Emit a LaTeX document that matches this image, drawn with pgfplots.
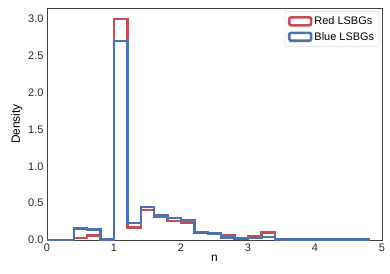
\documentclass[border=0pt]{standalone}
\usepackage{pgfplots}
\pgfplotsset{compat=1.18}
\usepackage{fontspec}
\setmainfont{Liberation Sans}
\definecolor{sred}{HTML}{C44E52}
\definecolor{sblue}{HTML}{4C72B0}
\begin{document}
\begin{tikzpicture}
\begin{axis}[
  scale only axis,
  width=335bp, height=232bp,
  xmin=0, xmax=5, ymin=0, ymax=3.15,
  xtick={0,1,2,3,4,5},
  ytick={0,0.5,1,1.5,2,2.5,3},
  yticklabel style={/pgf/number format/.cd,fixed,fixed zerofill,precision=1},
  /pgf/number format/assume math mode=true,
  major tick length=0pt,
  tick label style={font=\fontsize{11}{13}\selectfont, text=black!85},
  label style={font=\fontsize{12}{14}\selectfont},
  xlabel={n}, ylabel={Density},
  xlabel style={yshift=3pt},
  ylabel style={yshift=-1pt},
  axis line style={black!75, line width=0.8pt},
  legend style={at={(0.992,0.985)}, anchor=north east, draw=black!20, rounded corners=2pt,
    font=\fontsize{11}{13}\selectfont, inner sep=3pt, row sep=2pt},
  legend cell align=left,
  legend image code/.code={\draw[#1] (0pt,-4pt) rectangle (22pt,4pt);},
]
\addplot[const plot mark left, color=sred, line width=2.6pt, line join=miter] coordinates {
(0,0)(0.2,0)(0.4,0.03)(0.6,0.06)(0.8,0.005)(1.0,3.0)(1.2,0.17)(1.4,0.41)(1.6,0.32)(1.8,0.26)
(2.0,0.24)(2.2,0.095)(2.4,0.085)(2.6,0.06)(2.8,0.03)(3.0,0.05)(3.2,0.10)(3.4,0.005)(3.6,0.005)
(3.8,0.005)(4.0,0.005)(4.2,0.005)(4.4,0.005)(4.6,0.005)(4.8,0)};
\addlegendentry{Red LSBGs}
\addplot[const plot mark left, color=sblue, line width=2.6pt, line join=miter] coordinates {
(0,0)(0.2,0)(0.4,0.155)(0.6,0.14)(0.8,0.01)(1.0,2.70)(1.2,0.23)(1.4,0.45)(1.6,0.33)(1.8,0.30)
(2.0,0.27)(2.2,0.10)(2.4,0.09)(2.6,0.035)(2.8,0.02)(3.0,0.03)(3.2,0.04)(3.4,0.01)(3.6,0.01)
(3.8,0.005)(4.0,0.005)(4.2,0.005)(4.4,0.005)(4.6,0.005)(4.8,0)};
\addlegendentry{Blue LSBGs}
\end{axis}
\pgfresetboundingbox
\path ([xshift=-47bp,yshift=-33bp]current axis.south west) rectangle ([xshift=8bp,yshift=8bp]current axis.north east);
\end{tikzpicture}
\end{document}
